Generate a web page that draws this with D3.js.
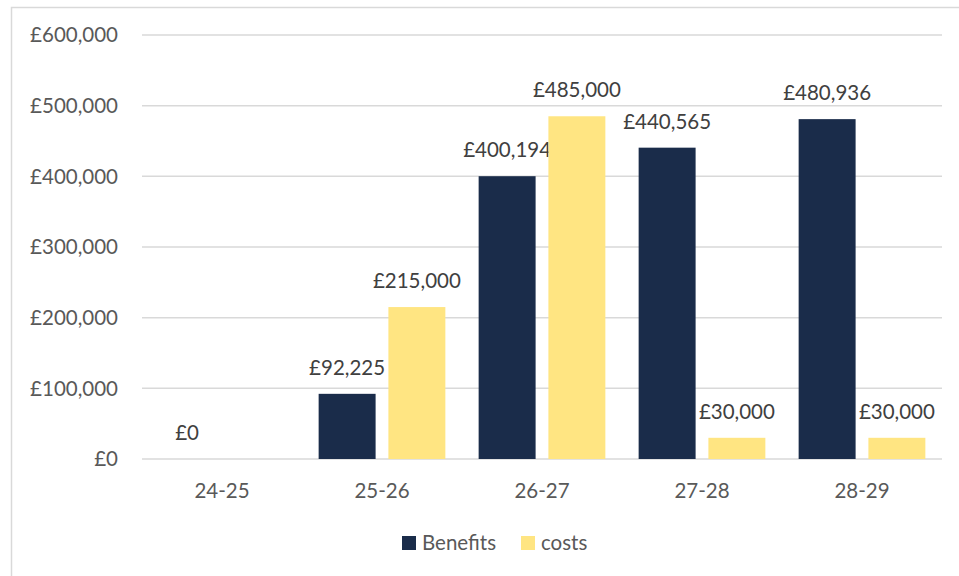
<!DOCTYPE html>
<html><head><meta charset="utf-8">
<script src="https://cdn.jsdelivr.net/npm/d3@7"></script>
<style>body{margin:0;background:#fff}svg{display:block}text{font-family:Lato,"Open Sans",sans-serif}</style>
</head><body>
<svg id="c" width="959" height="576"></svg>
<script>
const categories = ["24-25","25-26","26-27","27-28","28-29"];
const benefits = [0, 92225, 400194, 440565, 480936];
const costs = [null, 215000, 485000, 30000, 30000];
const yTicks = [0,100000,200000,300000,400000,500000,600000];
const seriesNames = ["Benefits","costs"];
const colors = ["#1a2c4a","#ffe582"];

(function(){
const svg = d3.select("#c");
const fs = 20.5;
svg.append("rect").attr("x",11.5).attr("y",7.5).attr("width",960).attr("height",580)
  .attr("fill","#fff").attr("stroke","#d9d9d9").attr("stroke-width",1.5);

const pl=142, pr=942, pt=35, pb=459;
const x = d3.scaleBand().domain(categories).range([pl,pr]);
const y = d3.scaleLinear().domain([0,600000]).range([pb,pt]);
const fmt = v => "£" + d3.format(",")(v);

svg.append("g").selectAll("line").data(yTicks).join("line")
  .attr("x1",pl).attr("x2",pr).attr("y1",d=>y(d)).attr("y2",d=>y(d))
  .attr("stroke","#d9d9d9").attr("stroke-width",1.5);

svg.append("g").selectAll("text").data(yTicks).join("text")
  .attr("x",118).attr("y",d=>y(d)).attr("dy","0.35em").attr("text-anchor","end")
  .attr("font-size",fs).attr("fill","#595959").text(fmt);

svg.append("g").selectAll("text").data(categories).join("text")
  .attr("x",d=>x(d)+x.bandwidth()/2).attr("y",497.5).attr("text-anchor","middle")
  .attr("font-size",fs).attr("fill","#595959").text(d=>d);

const bw = x.bandwidth();
const barW = bw*0.356, gap = bw*0.08, off = (bw - 2*barW - gap)/2;
const series = [benefits, costs];
series.forEach((vals,si)=>{
  const data = categories.map((c,i)=>({c, v: vals[i]})).filter(d=>d.v!==null);
  const bx = d => x(d.c) + off + si*(barW+gap);
  svg.append("g").selectAll("rect").data(data).join("rect")
    .attr("x",bx).attr("width",barW)
    .attr("y",d=>y(d.v)).attr("height",d=>y(0)-y(d.v))
    .attr("fill",colors[si]);
  svg.append("g").selectAll("text").data(data).join("text")
    .attr("x",d=>bx(d)+barW/2).attr("y",d=>y(d.v)-19).attr("text-anchor","middle")
    .attr("font-size",fs).attr("fill","#404040").text(d=>fmt(d.v));
});

const lg = svg.append("g");
const legX = [402, 521];
seriesNames.forEach((n,i)=>{
  lg.append("rect").attr("x",legX[i]).attr("y",536).attr("width",14).attr("height",14).attr("fill",colors[i]);
  lg.append("text").attr("x",legX[i]+20).attr("y",543).attr("dy","0.35em")
    .attr("font-size",fs).attr("fill","#595959").text(n);
});
})();
</script>
</body></html>
